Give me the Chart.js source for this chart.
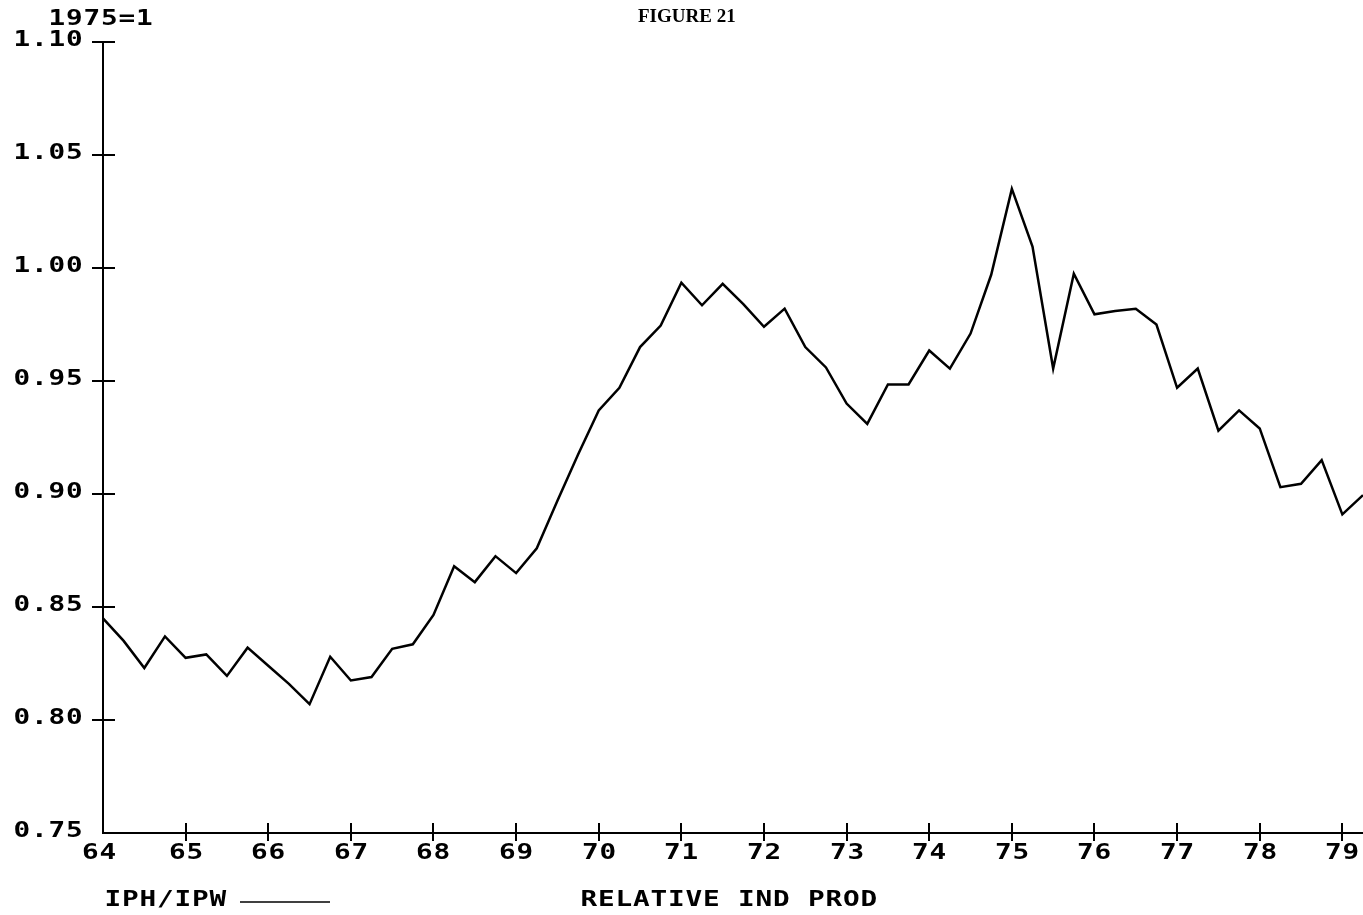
<!DOCTYPE html>
<html><head><meta charset="utf-8">
<script src="https://cdn.jsdelivr.net/npm/chart.js@4/dist/chart.umd.min.js"></script>
<style>html,body{margin:0;padding:0;background:#fff;overflow:hidden}#wrap{width:1363px;height:915px;position:relative}canvas{display:block}</style>
</head><body><div id="wrap"><canvas id="c" width="1363" height="915"></canvas></div>
<script>
// Quarterly periods 1964Q1 .. 1979Q2
const quarters = [
 '64Q1','64Q2','64Q3','64Q4','65Q1','65Q2','65Q3','65Q4','66Q1','66Q2','66Q3','66Q4',
 '67Q1','67Q2','67Q3','67Q4','68Q1','68Q2','68Q3','68Q4','69Q1','69Q2','69Q3','69Q4',
 '70Q1','70Q2','70Q3','70Q4','71Q1','71Q2','71Q3','71Q4','72Q1','72Q2','72Q3','72Q4',
 '73Q1','73Q2','73Q3','73Q4','74Q1','74Q2','74Q3','74Q4','75Q1','75Q2','75Q3','75Q4',
 '76Q1','76Q2','76Q3','76Q4','77Q1','77Q2','77Q3','77Q4','78Q1','78Q2','78Q3','78Q4',
 '79Q1','79Q2'
];
// IPH/IPW relative industrial production (1975=1)
const relIndProd = [
 0.845,0.835,0.823,0.837,0.8275,0.829,0.8195,0.832,0.824,0.816,0.807,0.828,
 0.8175,0.819,0.8315,0.8335,0.8465,0.868,0.861,0.8725,0.865,0.876,0.897,0.9175,
 0.937,0.947,0.965,0.9745,0.9935,0.9835,0.993,0.984,0.974,0.982,0.965,0.956,
 0.940,0.931,0.9485,0.9485,0.9635,0.9555,0.971,0.997,1.035,1.0095,0.9555,0.9975,
 0.9795,0.981,0.982,0.975,0.947,0.9555,0.928,0.937,0.929,0.903,0.9045,0.915,
 0.891,0.8995
];
const yTickValues = [0.75,0.80,0.85,0.90,0.95,1.00,1.05,1.10];
const yTickLabels = ['0.75','0.80','0.85','0.90','0.95','1.00','1.05','1.10'];
const xTickQuarters = ['64Q1','65Q1','66Q1','67Q1','68Q1','69Q1','70Q1','71Q1','72Q1','73Q1','74Q1','75Q1','76Q1','77Q1','78Q1','79Q1'];
const xTickLabels = ['64','65','66','67','68','69','70','71','72','73','74','75','76','77','78','79'];
const titleText = 'FIGURE 21';
const unitNote = '1975=1';
const seriesName = 'IPH/IPW';
const axisTitle = 'RELATIVE IND PROD';

const PLOT_FONT = 'bold 21px "DejaVu Sans Mono", monospace';
const ADV = 17.5;
const STRETCH = 1.32;
function drawSpaced(ctx, text, x, y, align) {
  const total = text.length * ADV;
  let start = x;
  if (align === 'center') start = x - total / 2;
  else if (align === 'right') start = x - total;
  for (let i = 0; i < text.length; i++) {
    ctx.save();
    ctx.font = PLOT_FONT;
    ctx.fillStyle = '#000';
    ctx.textAlign = 'center';
    ctx.textBaseline = 'middle';
    ctx.translate(start + ADV * (i + 0.5), y);
    ctx.scale(STRETCH, 1);
    ctx.fillText(text[i], 0, 0);
    ctx.restore();
  }
}

const decor = {
  id: 'decor',
  afterDraw(chart) {
    const ctx = chart.ctx;
    const xs = chart.scales.x, ys = chart.scales.y;
    const area = chart.chartArea;
    ctx.save();
    ctx.strokeStyle = '#000';
    ctx.lineWidth = 2;
    // y-axis crosses
    yTickValues.forEach((v, i) => {
      const y = Math.round(ys.getPixelForValue(v));
      if (i > 0) {
        ctx.beginPath();
        ctx.moveTo(area.left - 11, y);
        ctx.lineTo(area.left + 12, y);
        ctx.stroke();
      }
      drawSpaced(ctx, yTickLabels[i], 13, y - 1, 'left');
    });
    // x-axis crosses
    xTickQuarters.forEach((q, i) => {
      const x = Math.round(xs.getPixelForValue(quarters.indexOf(q)));
      if (i > 0) {
        ctx.beginPath();
        ctx.moveTo(x, area.bottom - 10);
        ctx.lineTo(x, area.bottom + 8);
        ctx.stroke();
      }
      drawSpaced(ctx, xTickLabels[i], i === 0 ? x - 4 : x, area.bottom + 21, 'center');
    });
    // unit note
    drawSpaced(ctx, unitNote, 48, 20, 'left');
    // bottom legend and axis title
    drawSpaced(ctx, seriesName, 104, 901, 'left');
    ctx.lineWidth = 1.5;
    ctx.beginPath();
    ctx.moveTo(240, 902);
    ctx.lineTo(330, 902);
    ctx.stroke();
    drawSpaced(ctx, axisTitle, 580, 901, 'left');
    // title
    ctx.font = 'bold 19px "Liberation Serif", serif';
    ctx.fillStyle = '#000';
    ctx.textAlign = 'left';
    ctx.textBaseline = 'middle';
    ctx.fillText(titleText, 638, 17);
    ctx.restore();
  }
};

new Chart(document.getElementById('c'), {
  type: 'line',
  data: {
    labels: quarters,
    datasets: [{
      label: seriesName,
      data: relIndProd,
      borderColor: '#000',
      borderWidth: 2.5,
      pointRadius: 0,
      tension: 0,
      fill: false,
      clip: false
    }]
  },
  options: {
    responsive: false,
    animation: false,
    devicePixelRatio: 1,
    layout: { padding: { top: 42, left: 0, right: 0, bottom: 0 } },
    plugins: { legend: { display: false }, tooltip: { enabled: false }, title: { display: false } },
    scales: {
      x: {
        type: 'category',
        offset: false,
        grid: { display: false },
        border: { display: true, color: '#000', width: 2 },
        ticks: { display: false },
        afterFit(s) { s.height = 82; }
      },
      y: {
        type: 'linear',
        min: 0.75,
        max: 1.10,
        grid: { display: false },
        border: { display: true, color: '#000', width: 2 },
        ticks: { display: false },
        afterFit(s) { s.width = 103; }
      }
    }
  },
  plugins: [decor]
});
</script>
</body></html>
